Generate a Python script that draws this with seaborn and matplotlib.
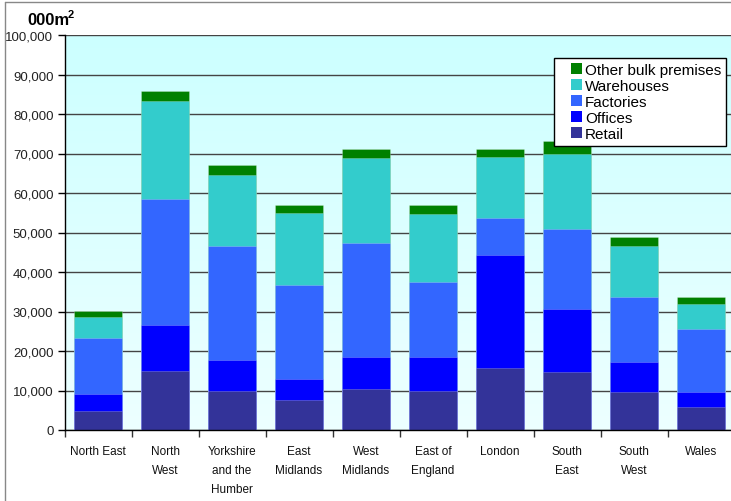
import numpy as np
import pandas as pd
import matplotlib
matplotlib.use("Agg")
import matplotlib.pyplot as plt
import seaborn as sns
from matplotlib.patches import Patch, Rectangle
from matplotlib.lines import Line2D
from matplotlib.legend_handler import HandlerPatch
from matplotlib.ticker import FuncFormatter

# Floorspace by region and bulk class, thousand square metres
regions = ["North East", "North\nWest", "Yorkshire\nand the\nHumber", "East\nMidlands",
           "West\nMidlands", "East of\nEngland", "London", "South\nEast", "South\nWest", "Wales"]
retail = [4900, 14900, 9900, 7700, 10400, 10000, 15700, 14700, 9700, 5800]
offices = [4200, 11600, 7900, 5300, 8000, 8600, 28700, 15900, 7500, 3900]
factories = [14200, 32000, 28900, 23700, 29000, 18900, 9300, 20300, 16500, 15900]
warehouses = [5400, 24700, 17900, 18300, 21500, 17100, 15500, 18900, 12900, 6400]
other_bulk = [1500, 2700, 2500, 2000, 2300, 2400, 2000, 3400, 2300, 1700]

series = ["Retail", "Offices", "Factories", "Warehouses", "Other bulk premises"]
palette = {
    "Retail": "#333399",
    "Offices": "#0000FF",
    "Factories": "#3366FF",
    "Warehouses": "#33CCCC",
    "Other bulk premises": "#008000",
}

df = pd.DataFrame({
    "region": regions,
    "Retail": retail,
    "Offices": offices,
    "Factories": factories,
    "Warehouses": warehouses,
    "Other bulk premises": other_bulk,
})
# running totals so each layer can be drawn as a full-height bar over the one above it
cum = df[series].cumsum(axis=1)
cum["region"] = df["region"]

sns.set_theme(style="white")
plt.rcParams["font.family"] = ["Liberation Sans", "DejaVu Sans"]

W, H = 731, 502
fig = plt.figure(figsize=(W / 100, H / 100), dpi=100)
ax_left, ax_bottom, ax_w, ax_h = 64.5, 71, 670, 395
ax = fig.add_axes([ax_left / W, ax_bottom / H, ax_w / W, ax_h / H])

# light cyan wash behind the plot area
grad = np.linspace(0, 1, 256)[:, None]
top = np.array([0.80, 1.0, 1.0])
bot = np.array([0.93, 1.0, 1.0])
img = top[None, None, :] * (1 - grad[..., None]) + bot[None, None, :] * grad[..., None]
ax.imshow(img, extent=[0, 1, 0, 1], transform=ax.transAxes, aspect="auto", zorder=0)

for name in reversed(series):
    sns.barplot(data=cum, x="region", y=name, order=regions, color=palette[name],
                saturation=1, width=0.72, errorbar=None, ax=ax, zorder=2,
                edgecolor=(1, 1, 1, 0.25), linewidth=0.6)

ax.set_xlim(-0.5, 9.5)
ax.set_ylim(0, 100000)
ax.set_yticks(np.arange(0, 100001, 10000))
ax.yaxis.set_major_formatter(FuncFormatter(lambda v, p: f"{v:,.0f}"))
ax.yaxis.grid(True, color="#444444", linewidth=1)
ax.xaxis.grid(False)
ax.set_axisbelow(True)

for s in ["top", "right"]:
    ax.spines[s].set_visible(False)
for s in ["left", "bottom"]:
    ax.spines[s].set_color("black")
    ax.spines[s].set_linewidth(1)

ax.set_xlabel("")
ax.set_ylabel("")

# boundary ticks between categories, labels at the bar centres
ax.set_xticks(np.arange(-0.5, 10, 1))
ax.set_xticklabels([])
ax.set_xticks(np.arange(10), minor=True)
ax.set_xticklabels(regions, minor=True, linespacing=1.75,
                   fontsize=8.5, color="#111111", va="top")
ax.tick_params(axis="x", which="major", bottom=True, length=5, width=1, color="#333333",
               direction="out")
ax.tick_params(axis="x", which="minor", bottom=True, length=0, pad=11)
ax.tick_params(axis="y", which="major", left=True, length=5, width=1, color="black",
               direction="out", labelsize=9.5, labelcolor="#222222", pad=3)


def square_right(legend, orig_handle, xdescent, ydescent, width, height, fontsize):
    # square swatch pushed to the right end of the handle slot
    size = 0.72 * fontsize
    return Rectangle((-xdescent + width - size, -ydescent + (height - size) / 2), size, size)


handles = [Patch(facecolor=palette[n], edgecolor="none", label=n) for n in reversed(series)]
leg = ax.legend(handles=handles, loc="upper right",
                bbox_to_anchor=((726 - ax_left) / ax_w, (431 - 59) / ax_h),
                frameon=True, fancybox=False, framealpha=1, edgecolor="black",
                facecolor="white", fontsize=11, labelspacing=0.14, handlelength=1.5,
                handleheight=0.75, handletextpad=0.22, borderaxespad=0, borderpad=0.3,
                handler_map={Patch: HandlerPatch(patch_func=square_right)})
leg.get_frame().set_linewidth(1)
for t in leg.get_texts():
    t.set_color("black")

fig.text(27 / W, 1 - 25 / H, "000m", fontsize=12, fontweight="bold", va="baseline",
         ha="left", color="black")
fig.text(68 / W, 1 - 17.5 / H, "2", fontsize=8, fontweight="bold", va="baseline",
         ha="left", color="black")

# outer chart frame
fig.add_artist(Line2D([4.5 / W, 4.5 / W], [0, 1 - 2.5 / H], transform=fig.transFigure,
                      color="#888888", linewidth=1))
fig.add_artist(Line2D([4.5 / W, 1], [1 - 2.5 / H, 1 - 2.5 / H], transform=fig.transFigure,
                      color="#888888", linewidth=1))

fig.savefig("out.png", dpi=100)
